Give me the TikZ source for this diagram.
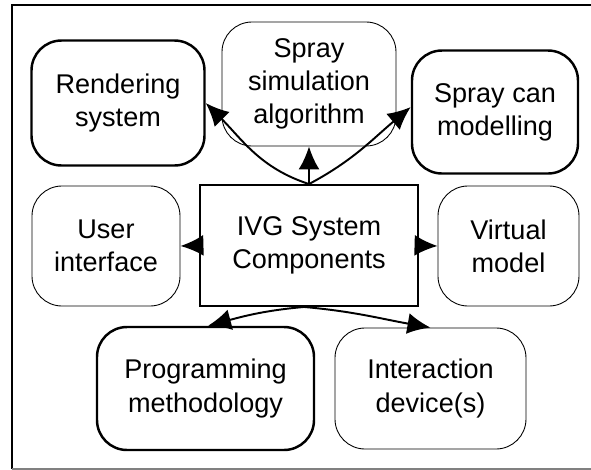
\documentclass[tikz,border=0pt]{standalone}
\usepackage{fontspec}
\setmainfont{Liberation Sans}
\usetikzlibrary{arrows.meta}

\begin{document}
\begin{tikzpicture}[
	thinbox/.style={draw, line width=0.5pt, rounded corners=0.6cm, align=center, inner sep=0pt},
	thickbox/.style={thinbox, line width=1.4pt},
	link/.style={line width=1.1pt, -{Latex[length=0.46cm,width=0.42cm]}},
	font=\fontsize{15.4}{18.8}\selectfont]
	\useasboundingbox (0,0) rectangle (11.82,-9.4);
	\draw[line width=1pt] (0.24,-9.38) -- (0.24,-0.1) -- (11.9,-0.1);
	\draw[gray, line width=0.8pt] (0.24,-9.38) -- (11.9,-9.38);
	\node (sys) at (6.18,-4.91) [draw, line width=1.1pt, minimum width=4.36cm, minimum height=2.42cm, align=center] {IVG System\\Components};
	\node (render) at (2.36,-2.06) [thickbox, minimum width=3.46cm, minimum height=2.5cm] {Rendering\\system};
	\node (spray) at (6.18,-1.68) [thinbox, minimum width=3.48cm, minimum height=2.48cm] {Spray\\simulation\\algorithm};
	\node (can) at (9.9,-2.24) [thickbox, minimum width=3.32cm, minimum height=2.46cm] {Spray can\\modelling};
	\node (ui) at (2.12,-4.92) [thinbox, minimum width=2.96cm, minimum height=2.4cm] {User\\interface};
	\node (vm) at (10.17,-4.92) [thinbox, minimum width=2.82cm, minimum height=2.4cm] {Virtual\\model};
	\node (prog) at (4.11,-7.77) [thickbox, minimum width=4.34cm, minimum height=2.46cm] {Programming\\methodology};
	\node (dev) at (8.61,-7.77) [thinbox, minimum width=3.82cm, minimum height=2.42cm] {Interaction\\device(s)};
	\draw[link] (sys.north) -- (spray.south);
	\draw[link] (sys.north) to[out=162, in=-45] (render.east);
	\draw[link] (sys.north) to[out=28, in=-140] ([yshift=0.1cm]can.west);
	\draw[link] (sys.west) -- (ui.east);
	\draw[link] (sys.east) -- (vm.west);
	\draw[link] ([xshift=-0.1cm]sys.south) to[out=185, in=15] ([xshift=0.05cm]prog.north);
	\draw[link] ([xshift=-0.1cm]sys.south) to[out=-5, in=170] (dev.north);
\end{tikzpicture}
\end{document}
